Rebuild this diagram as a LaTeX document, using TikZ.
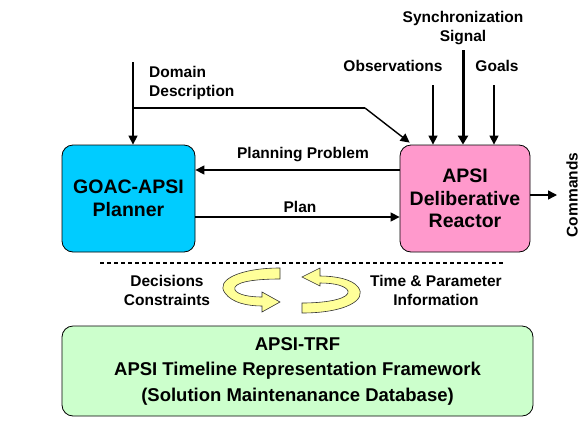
\documentclass[tikz,border=0pt]{standalone}
\usepackage{fontspec}
\setmainfont{Liberation Sans}
\usetikzlibrary{arrows.meta,calc}
\definecolor{cyanbox}{HTML}{00CCFF}
\definecolor{pinkbox}{HTML}{FF99CC}
\definecolor{greenbox}{HTML}{CCFFCC}
\definecolor{yellowrib}{HTML}{FFFF99}
\begin{document}
\begin{tikzpicture}[x=1pt,y=-1pt,
  box/.style={draw=black,line width=0.8pt,rounded corners=11pt,align=center,font=\fontsize{19.5}{22.5}\selectfont\bfseries,inner sep=0pt},
  lbl/.style={font=\fontsize{15.5}{19}\selectfont\bfseries,align=center,inner sep=0pt},
  arr/.style={line width=1.4pt,-{Triangle[length=9pt,width=9pt]}},
  rib/.style={draw=black!80,line width=0.6pt,fill=yellowrib}]
\useasboundingbox (0,0) rectangle (583,426);
% boxes
\node[box,fill=cyanbox,minimum width=133pt,minimum height=107pt] (planner) at (128.5,198.5) {GOAC-APSI\\Planner};
\node[box,fill=pinkbox,minimum width=130pt,minimum height=107pt] (reactor) at (465,198.5) {APSI\\Deliberative\\Reactor};
\node[box,fill=greenbox,minimum width=471pt,minimum height=90pt,font=\fontsize{18.5}{25.5}\selectfont\bfseries] (trf) at (297.5,371) {APSI-TRF\\APSI Timeline Representation Framework\\(Solution Maintenanance Database)};
% labels
\node[lbl,align=left,anchor=west] (dom) at (149,83) {Domain\\Description};
\node[lbl] (obs) at (393,66) {Observations};
\node[lbl] (sync) at (463,28) {Synchronization\\Signal};
\node[lbl] (goals) at (497,66) {Goals};
\node[lbl] (pp) at (303,155) {Planning Problem};
\node[lbl] (plan) at (300,207) {Plan};
\node[lbl,rotate=90] (cmd) at (572,195) {Commands};
\node[lbl] (dec) at (167,290) {Decisions\\Constraints};
\node[lbl] (time) at (436,290) {Time \& Parameter\\Information};
% coordinates
\coordinate (domtop) at (133,62);
\coordinate (domknee) at (133,108);
\coordinate (domelbow) at (365,108);
\coordinate (obstop) at (433,85);
\coordinate (synctop) at (463,50);
\coordinate (goaltop) at (494,85);
\coordinate (cmdend) at (557,195);
% connectors
\draw[arr] (domtop) -- (domtop |- planner.north);
\draw[line width=1.2pt] (domknee) -- (domelbow);
\draw[arr] (domelbow) -- ($(reactor.north west)+(10,-2)$);
\draw[arr] (obstop) -- (obstop |- reactor.north);
\draw[line width=3pt,-{Triangle[length=9pt,width=10pt]}] (synctop) -- (synctop |- reactor.north);
\draw[arr] (goaltop) -- (goaltop |- reactor.north);
\draw[arr] (reactor.west |- 0,170) -- (planner.east |- 0,170);
\draw[arr] (planner.east |- 0,217) -- (reactor.west |- 0,217);
\draw[arr] (reactor.east |- cmdend) -- (cmdend);
% dashed separator
\draw[line width=1.2pt,dash pattern=on 4pt off 3pt] (100,263) -- (505,263);
% ribbons
\draw[rib] (280,268) .. controls (240,268) and (215,280) .. (225,293) .. controls (232,303) and (248,306) .. (262,306) -- (262,312) -- (280,302) -- (262,292) -- (262,297) .. controls (250,297) and (238,295) .. (235,290) .. controls (232,283) and (250,279) .. (280,279) -- cycle;
\draw[rib] (302,313) .. controls (345,313) and (368,300) .. (358,287) .. controls (352,279) and (335,276) .. (320,276) -- (320,268) -- (302,277) -- (320,286) -- (320,283) .. controls (335,283) and (346,286) .. (348,291) .. controls (350,298) and (330,303) .. (302,303) -- cycle;
\end{tikzpicture}
\end{document}
